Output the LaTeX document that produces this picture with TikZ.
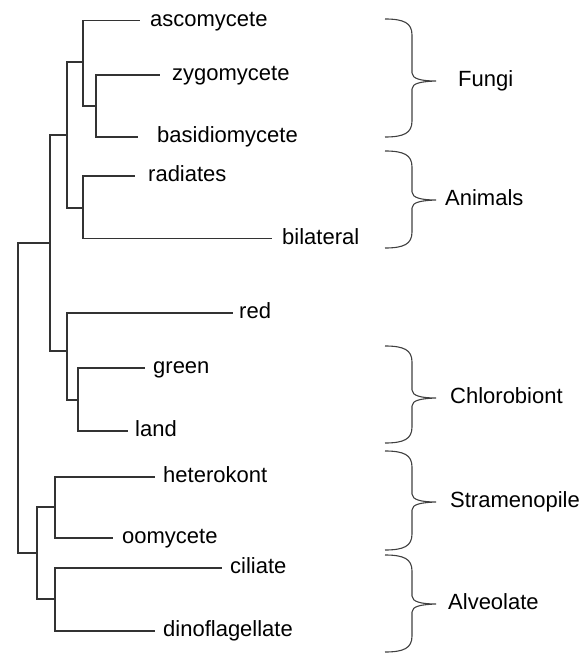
\documentclass[tikz,border=0pt]{standalone}
\usepackage{fontspec}
\setmainfont{Liberation Sans}
\newcommand{\grpbrace}[3]{%
  \draw[bracket] (385,#1) .. controls (404,#1) and (412,#1+4) .. (412,#1+16)
    -- (412,#3-8) .. controls (412,#3-2) and (422,#3) .. (436,#3)
    .. controls (422,#3+0.5) and (412,#3+2) .. (412,#3+8)
    -- (412,#2-16) .. controls (412,#2-4) and (404,#2) .. (385,#2);}
\begin{document}
\fontsize{22}{25}\selectfont
\begin{tikzpicture}[x=1pt,y=-1pt,
  branch/.style={draw=black!80, line width=1.1pt},
  leaf/.style={anchor=mid west, inner ysep=0pt, inner xsep=8pt, font=\fontsize{22}{25}\selectfont, text=black},
  grp/.style={anchor=mid west, inner sep=0pt, font=\fontsize{22}{25}\selectfont, text=black},
  bracket/.style={draw=black!75, line width=1.1pt}]
\useasboundingbox (0,0) rectangle (585,655);
% leaves
\node[leaf, inner xsep=10pt] (asco) at (140,20.7) {ascomycete};
\node[leaf, inner xsep=12pt] (zygo) at (160,75) {zygomycete};
\node[leaf, inner xsep=19pt] (basi) at (138,137) {basidiomycete};
\node[leaf, inner xsep=13pt] (radi) at (135,176) {radiates};
\node[leaf, inner xsep=10pt] (bila) at (272,238.5) {bilateral};
\node[leaf, inner xsep=6pt] (red) at (233,313) {red};
\node[leaf] (green) at (145,368) {green};
\node[leaf, inner xsep=7pt] (land) at (128,431) {land};
\node[leaf] (hetero) at (155,477) {heterokont};
\node[leaf, inner xsep=9pt] (oomy) at (113,538) {oomycete};
\node[leaf] (cili) at (222,568) {ciliate};
\node[leaf] (dino) at (155,631) {dinoflagellate};
% internal nodes
\coordinate (zb) at (96,106);
\coordinate (fun) at (83,62);
\coordinate (ani) at (83,208);
\coordinate (opi) at (67,135);
\coordinate (gl) at (78,400);
\coordinate (pla) at (67,351);
\coordinate (upp) at (50,243);
\coordinate (stra) at (55,507);
\coordinate (alv) at (55,599);
\coordinate (chr) at (37,553);
\coordinate (root) at (18,398);
% branches
\draw[branch] (zb) |- (zygo.mid west);
\draw[branch] (zb) |- (basi.mid west);
\draw[branch] (fun) |- (asco.mid west);
\draw[branch] (fun) |- (zb);
\draw[branch] (ani) |- (radi.mid west);
\draw[branch] (ani) |- (bila.mid west);
\draw[branch] (opi) |- (fun);
\draw[branch] (opi) |- (ani);
\draw[branch] (gl) |- (green.mid west);
\draw[branch] (gl) |- (land.mid west);
\draw[branch] (pla) |- (red.mid west);
\draw[branch] (pla) |- (gl);
\draw[branch] (upp) |- (opi);
\draw[branch] (upp) |- (pla);
\draw[branch] (stra) |- (hetero.mid west);
\draw[branch] (stra) |- (oomy.mid west);
\draw[branch] (alv) |- (cili.mid west);
\draw[branch] (alv) |- (dino.mid west);
\draw[branch] (chr) |- (stra);
\draw[branch] (chr) |- (alv);
\draw[branch] (root) |- (upp);
\draw[branch] (root) |- (chr);
% groups
\node[grp] (fungi) at (458,81) {Fungi};
\node[grp] (animals) at (445,200) {Animals};
\node[grp] (chloro) at (450,398) {Chlorobiont};
\node[grp] (strameno) at (450,502) {Stramenopile};
\node[grp] (alveo) at (448,604) {Alveolate};
\grpbrace{19}{137}{81}
\grpbrace{151}{248}{200}
\grpbrace{346}{443}{398}
\grpbrace{451}{550}{502}
\grpbrace{555}{652}{604}
\end{tikzpicture}
\end{document}
